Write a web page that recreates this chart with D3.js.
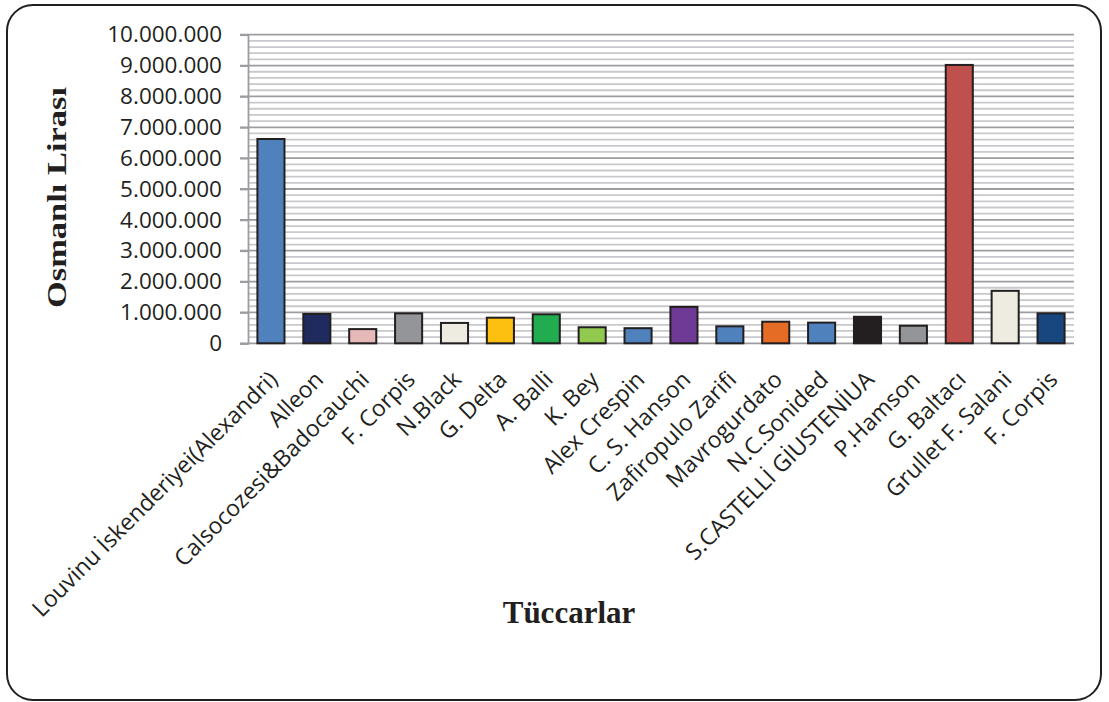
<!DOCTYPE html>
<html><head><meta charset="utf-8">
<script src="https://cdn.jsdelivr.net/npm/d3@7"></script>
<style>body{margin:0;background:#fff}svg{display:block}</style>
</head><body>
<svg id="c" width="1109" height="702"></svg>
<script>
const categories = ["Louvinu İskenderiyei(Alexandri)","Alleon","Calsocozesi&Badocauchi","F. Corpis","N.Black","G. Delta","A. Balli","K. Bey","Alex Crespin","C. S. Hanson","Zafiropulo Zarifi","Mavrogurdato","N.C.Sonided","S.CASTELLİ GİUSTENİUA","P.Hamson","G. Baltacı","Grullet F. Salani","F. Corpis"];
const values = [6620000,950000,460000,970000,660000,830000,940000,520000,490000,1180000,550000,700000,670000,860000,570000,9020000,1700000,970000];
const colors = ["#4F81BD","#1F2A5E","#E6B9B8","#939598","#EEECE1","#FDC010","#21AD4F","#92C94F","#4F81BD","#6E3A96","#4F81BD","#E46C24","#4F81BD","#231F20","#939598","#C0504D","#EEECE1","#17477E"];
const yTicks = [0,1000000,2000000,3000000,4000000,5000000,6000000,7000000,8000000,9000000,10000000];
const yMinorStep = 200000;

const svg = d3.select("#c");
const L = 248, R = 1074, T = 34.7, B = 343.3;

svg.append("rect").attr("x",7).attr("y",5).attr("width",1094).attr("height",695)
  .attr("rx",26).attr("ry",26).attr("fill","#fff").attr("stroke","#231F20").attr("stroke-width",2);

const x = d3.scaleBand().domain(categories.map((d,i)=>i)).range([L,R]).paddingInner(0.41).paddingOuter(0.205);
const y = d3.scaleLinear().domain([0,10000000]).range([B,T]);

const minor = d3.range(0,10000001,yMinorStep).filter(v=>v%1000000!==0);
svg.append("g").selectAll("line").data(minor).join("line")
  .attr("x1",L).attr("x2",R).attr("y1",d=>y(d)).attr("y2",d=>y(d))
  .attr("stroke","#C9C9CD").attr("stroke-width",1.8);
svg.append("g").selectAll("line").data(yTicks.filter(v=>v>0)).join("line")
  .attr("x1",L-8).attr("x2",R).attr("y1",d=>y(d)).attr("y2",d=>y(d))
  .attr("stroke","#9D9DA1").attr("stroke-width",1.8);

// axes
const fmt = v => d3.format(",")(v).replace(/,/g,".");
const yAxis = d3.axisLeft(y).tickValues(yTicks).tickFormat(fmt).tickSize(8).tickPadding(18);
const gy = svg.append("g").attr("transform",`translate(${L},0)`).call(yAxis);
gy.select(".domain").attr("stroke","#9D9DA1").attr("stroke-width",1.8);
gy.selectAll(".tick line").attr("stroke","#9D9DA1").attr("stroke-width",1.8);
gy.selectAll(".tick text").attr("font-family","'Open Sans'").attr("font-size",22.5).attr("fill","#231F20");

svg.append("line").attr("x1",L-8).attr("x2",R).attr("y1",B).attr("y2",B).attr("stroke","#9D9DA1").attr("stroke-width",1.8);

svg.append("g").selectAll("rect").data(values).join("rect")
  .attr("x",(d,i)=>x(i)).attr("width",x.bandwidth())
  .attr("y",d=>y(d)).attr("height",d=>B-y(d))
  .attr("fill",(d,i)=>colors[i]).attr("stroke","#231F20").attr("stroke-width",2);

svg.append("g").selectAll("text").data(categories).join("text")
  .attr("transform",(d,i)=>`translate(${x(i)+x.bandwidth()/2+8},381) rotate(-45)`)
  .attr("text-anchor","end").attr("font-family","'Open Sans'").attr("font-size",23).attr("fill","#231F20")
  .text(d=>d);

svg.append("text").attr("transform","translate(66,197.5) rotate(-90)").attr("text-anchor","middle")
  .attr("font-family","'Liberation Serif','Times New Roman',serif").attr("font-weight","bold").attr("font-size",27)
  .attr("textLength",221).attr("lengthAdjust","spacingAndGlyphs").attr("fill","#231F20").text("Osmanlı Lirası");

svg.append("text").attr("x",569).attr("y",623).attr("text-anchor","middle")
  .attr("font-family","'Liberation Serif','Times New Roman',serif").attr("font-weight","bold").attr("font-size",31)
  .attr("fill","#231F20").text("Tüccarlar");
</script>
</body></html>
